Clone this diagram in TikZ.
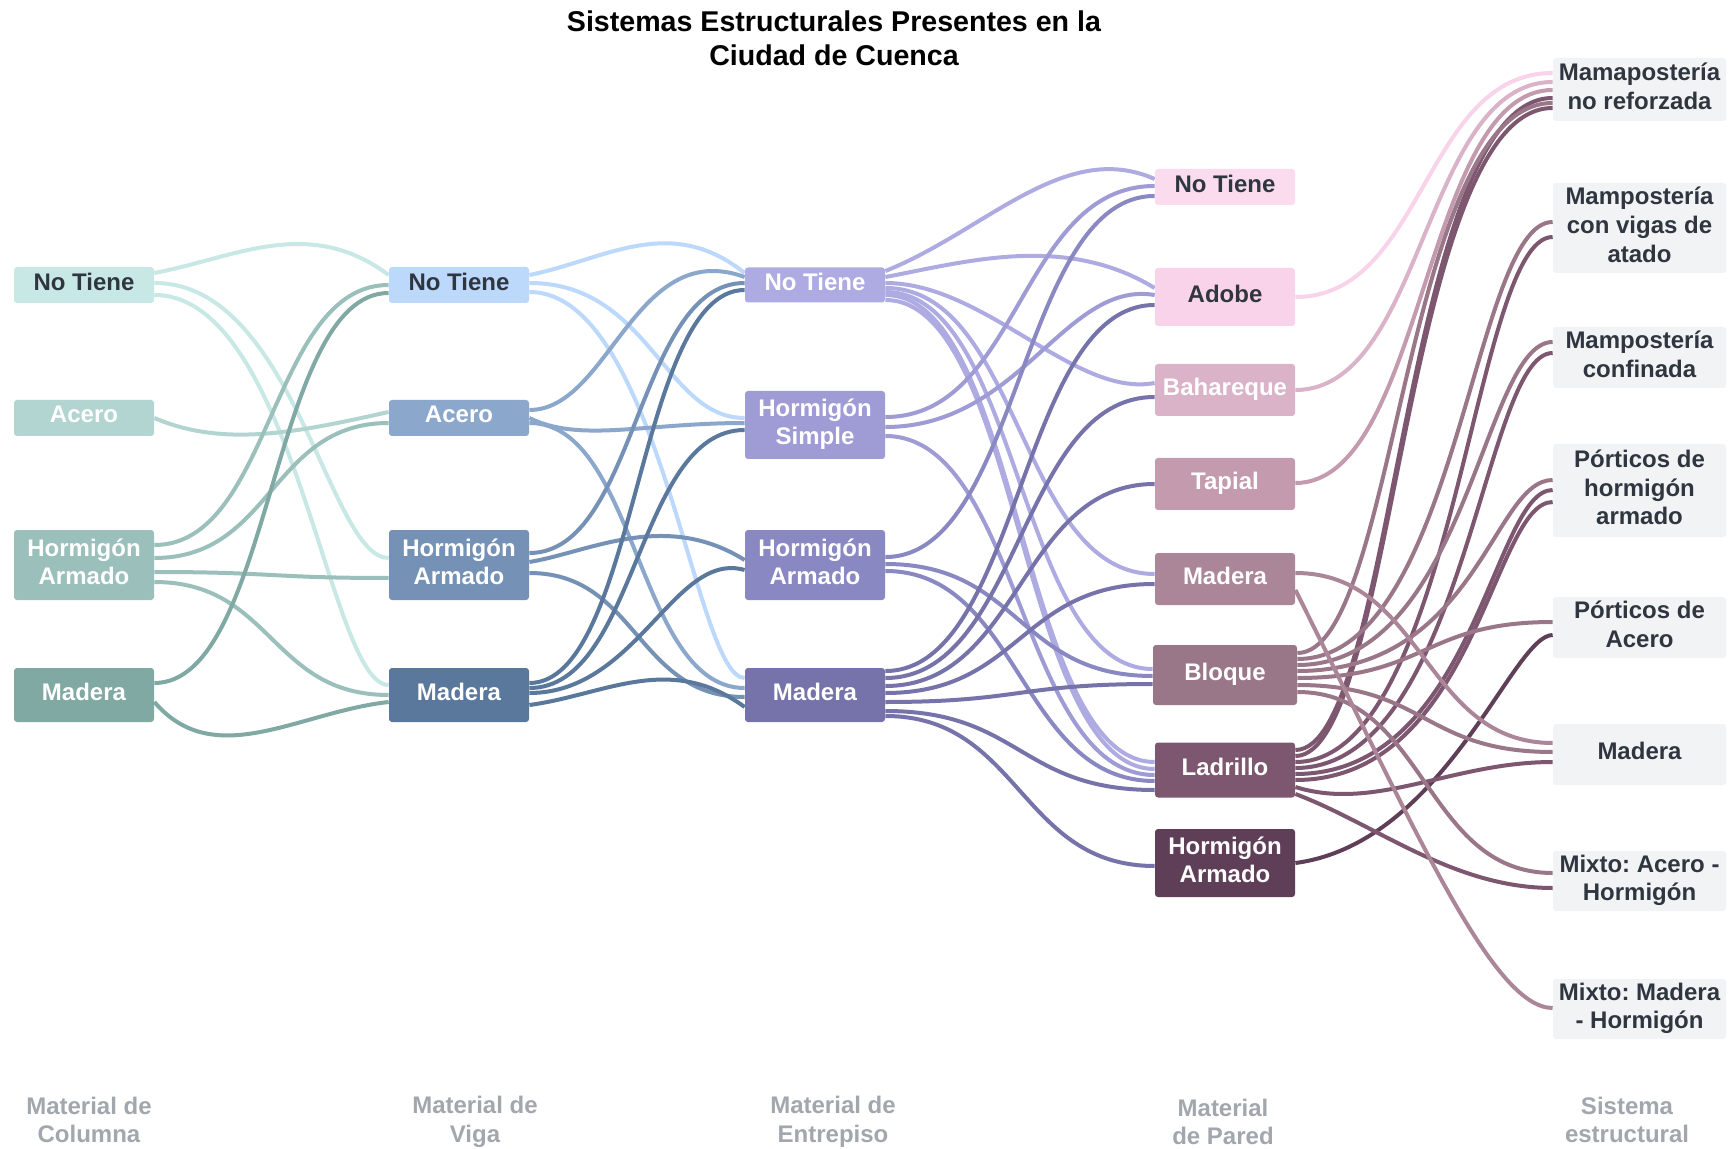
\documentclass[tikz,border=0pt]{standalone}
\usepackage{fontspec}
\setmainfont{Liberation Sans}
\usetikzlibrary{calc}
\pgfdeclarelayer{bg}
\pgfsetlayers{bg,main}
\frenchspacing
\definecolor{A1}{HTML}{C8E8E5}
\definecolor{A2}{HTML}{B3D5D2}
\definecolor{A3}{HTML}{9BC0BC}
\definecolor{A4}{HTML}{80A9A4}
\definecolor{B1}{HTML}{BCD8FB}
\definecolor{B2}{HTML}{8BA8CC}
\definecolor{B3}{HTML}{7592B6}
\definecolor{B4}{HTML}{5A779C}
\definecolor{C1}{HTML}{AEABE3}
\definecolor{C2}{HTML}{9E9BD5}
\definecolor{C3}{HTML}{8A88C2}
\definecolor{C4}{HTML}{7673AA}
\definecolor{D1}{HTML}{FADCEE}
\definecolor{D2}{HTML}{F8D3EA}
\definecolor{D3}{HTML}{DAB3C8}
\definecolor{D4}{HTML}{C49AAF}
\definecolor{D5}{HTML}{AB8698}
\definecolor{D6}{HTML}{9A7689}
\definecolor{D7}{HTML}{7D5770}
\definecolor{D8}{HTML}{5F3F58}
\definecolor{E0}{HTML}{F2F3F5}
\definecolor{TX}{HTML}{2F3640}
\definecolor{GR}{HTML}{A2A7AE}
\tikzset{
  box/.style={rectangle, rounded corners=1.5pt, inner sep=0pt, align=center,
    font=\bfseries\fontsize{12}{14.35}\selectfont, text=white, minimum width=70pt,
    text depth=3.3pt},
  sbox/.style={box, fill=E0, text=TX, minimum width=86.5pt},
  lnk/.style={line width=2pt},
  lab/.style={align=center, font=\bfseries\fontsize{12}{14.35}\selectfont, text=GR},
}
% link: colour, source, source offset, target, target offset, ctrl1, ctrl2
\newcommand\lk[7]{\draw[lnk,#1] ($(#2.east)+(0,#3)$) .. controls +(#6) and +(#7) .. ($(#4.west)+(0,#5)$);}
\begin{document}
\begin{tikzpicture}[x=0.5pt,y=-0.5pt]
\useasboundingbox (0,0) rectangle (1728,1149);
\begin{pgfonlayer}{bg}
\fill[white] (0,0) rectangle (1728,1149);
\end{pgfonlayer}

% title
\node[font=\bfseries\fontsize{14.3}{17}\selectfont, align=center] (title) at (834,38)
  {Sistemas Estructurales Presentes en la\\Ciudad de Cuenca};

% column 1
\node[box, fill=A1, text=TX, minimum height=18pt] (a1) at (84,285) {No Tiene};
\node[box, fill=A2, minimum height=18pt] (a2) at (84,418) {Acero};
\node[box, fill=A3, minimum height=35pt] (a3) at (84,565) {Hormigón\\Armado};
\node[box, fill=A4, minimum height=27pt] (a4) at (84,695) {Madera};
% column 2
\node[box, fill=B1, text=TX, minimum height=18pt] (b1) at (459,285) {No Tiene};
\node[box, fill=B2, minimum height=18pt] (b2) at (459,418) {Acero};
\node[box, fill=B3, minimum height=35pt] (b3) at (459,565) {Hormigón\\Armado};
\node[box, fill=B4, minimum height=27pt] (b4) at (459,695) {Madera};
% column 3
\node[box, fill=C1, minimum height=17.5pt] (c1) at (815,285) {No Tiene};
\node[box, fill=C2, minimum height=34pt] (c2) at (815,425) {Hormigón\\Simple};
\node[box, fill=C3, minimum height=35pt] (c3) at (815,565) {Hormigón\\Armado};
\node[box, fill=C4, minimum height=27pt] (c4) at (815,695) {Madera};
% column 4
\node[box, fill=D1, text=TX, minimum height=18pt] (d1) at (1225,187) {No Tiene};
\node[box, fill=D2, text=TX, minimum height=29pt] (d2) at (1225,297) {Adobe};
\node[box, fill=D3, minimum height=26pt] (d3) at (1225,390) {Bahareque};
\node[box, fill=D4, minimum height=26pt] (d4) at (1225,484) {Tapial};
\node[box, fill=D5, minimum height=26pt] (d5) at (1225,579) {Madera};
\node[box, fill=D6, minimum height=30pt, minimum width=72pt] (d6) at (1225,675) {Bloque};
\node[box, fill=D7, minimum height=27.5pt] (d7) at (1225,770) {Ladrillo};
\node[box, fill=D8, minimum height=34pt] (d8) at (1225,863) {Hormigón\\Armado};
% column 5
\node[sbox, minimum height=31.5pt] (e1) at (1639.5,89.5) {Mamapostería\\no reforzada};
\node[sbox, minimum height=45pt] (e2) at (1639.5,228) {Mampostería\\con vigas de\\atado};
\node[sbox, minimum height=30.5pt] (e3) at (1639.5,357.5) {Mampostería\\confinada};
\node[sbox, minimum height=46.5pt] (e4) at (1639.5,490.5) {Pórticos de\\hormigón\\armado};
\node[sbox, minimum height=30.5pt] (e5) at (1639.5,627.5) {Pórticos de\\Acero};
\node[sbox, minimum height=30.5pt] (e6) at (1639.5,754.5) {Madera};
\node[sbox, minimum height=30pt] (e7) at (1639.5,881) {Mixto: Acero -\\Hormigón};
\node[sbox, minimum height=30pt] (e8) at (1639.5,1009) {Mixto: Madera\\- Hormigón};

% bottom labels
\node[lab] (l1) at (89,1120) {Material de\\Columna};
\node[lab] (l2) at (475,1122) {Material de\\Viga};
\node[lab] (l3) at (833,1122) {Material de\\Entrepiso};
\node[lab] (l4) at (1223,1122) {Material\\de Pared};
\node[lab] (l5) at (1627,1120) {Sistema\\estructural};

\begin{pgfonlayer}{bg}
% column 1 -> 2
\lk{A1}{a1}{-12}{b1}{-10}{80,-15}{-80,-60}
\lk{A1}{a1}{-2}{b3}{-7}{140,0}{-60,0}
\lk{A1}{a1}{10}{b4}{-10}{140,0}{-60,0}
\lk{A2}{a2}{0}{b2}{-6}{70,30}{-90,20}
\lk{A3}{a3}{-20}{b1}{0}{118,0}{-118,0}
\lk{A3}{a3}{-7}{b2}{5}{118,0}{-118,0}
\lk{A3}{a3}{7}{b3}{13}{118,0}{-118,0}
\lk{A3}{a3}{17}{b4}{0}{118,0}{-118,0}
\lk{A4}{a4}{-12}{b1}{8}{118,0}{-118,0}
\lk{A4}{a4}{7}{b4}{7}{60,70}{-90,10}
% column 2 -> 3
\lk{B1}{b1}{-10}{c1}{-12}{75,-15}{-75,-60}
\lk{B1}{b1}{-2}{c2}{-7}{120,0}{-80,0}
\lk{B1}{b1}{7}{c4}{-17}{130,0}{-50,0}
\lk{B2}{b2}{-8}{c1}{-8}{80,0}{-110,-40}
\lk{B2}{b2}{0}{c2}{-2}{50,25}{-100,0}
\lk{B2}{b2}{5}{c4}{-7}{108,0}{-108,0}
\lk{B3}{b3}{-12}{c1}{-2}{108,0}{-108,0}
\lk{B3}{b3}{-3}{c3}{-5}{60,-10}{-80,-50}
\lk{B3}{b3}{8}{c4}{2}{108,0}{-108,0}
\lk{B4}{b4}{-12}{c1}{5}{108,0}{-108,0}
\lk{B4}{b4}{-7}{c2}{5}{108,0}{-108,0}
\lk{B4}{b4}{-2}{c3}{5}{108,0}{-70,-20}
\lk{B4}{b4}{10}{c4}{12}{75,-10}{-75,-55}
% column 3 -> 4
\lk{C1}{c1}{-14}{d1}{-8}{100,-40}{-90,-40}
\lk{C1}{c1}{-8}{d2}{-9}{80,-15}{-90,-55}
\lk{C1}{c1}{-2}{d3}{-7}{100,0}{-80,15}
\lk{C1}{c1}{3}{d5}{-5}{135,0}{-135,0}
\lk{C1}{c1}{7}{d6}{-6}{135,0}{-135,0}
\lk{C1}{c1}{10}{d7}{-8}{135,0}{-135,0}
\lk{C1}{c1}{15}{d7}{-1}{135,0}{-135,0}
\lk{C2}{c2}{-8}{d1}{-1}{135,0}{-135,0}
\lk{C2}{c2}{2}{d2}{-2}{135,0}{-90,-15}
\lk{C2}{c2}{11}{d7}{5}{135,0}{-135,0}
\lk{C3}{c3}{-8}{d1}{9}{135,0}{-135,0}
\lk{C3}{c3}{-1}{d6}{1}{135,0}{-135,0}
\lk{C3}{c3}{6}{d7}{11}{135,0}{-135,0}
\lk{C4}{c4}{-24}{d2}{8}{135,0}{-135,0}
\lk{C4}{c4}{-17}{d3}{7}{135,0}{-135,0}
\lk{C4}{c4}{-9}{d4}{0}{135,0}{-135,0}
\lk{C4}{c4}{-2}{d5}{5}{135,0}{-135,0}
\lk{C4}{c4}{7}{d6}{9}{135,0}{-135,0}
\lk{C4}{c4}{16}{d7}{20}{135,0}{-135,0}
\lk{C4}{c4}{21}{d8}{3}{135,0}{-135,0}
% column 4 -> 5
\lk{D2}{d2}{0}{e1}{-16.5}{129,0}{-129,0}
\lk{D3}{d3}{0}{e1}{-7.5}{129,0}{-129,0}
\lk{D4}{d4}{-1}{e1}{0.5}{129,0}{-129,0}
\lk{D7}{d7}{-20}{e1}{8.5}{100,0}{-150,0}
\lk{D6}{d6}{-22}{e1}{13.5}{100,0}{-150,0}
\lk{D7}{d7}{-14}{e1}{18.5}{100,0}{-150,0}
\lk{D6}{d6}{-16}{e2}{-6}{160,0}{-80,0}
\lk{D7}{d7}{-8}{e2}{9}{160,0}{-80,0}
\lk{D6}{d6}{-10}{e3}{-15.5}{170,0}{-70,0}
\lk{D7}{d7}{-2}{e3}{-4.5}{170,0}{-70,0}
\lk{D6}{d6}{-4}{e4}{-10.5}{180,0}{-60,0}
\lk{D7}{d7}{4}{e4}{-0.5}{180,0}{-60,0}
\lk{D7}{d7}{10}{e4}{11.5}{180,0}{-60,0}
\lk{D6}{d6}{3}{e5}{-5.5}{129,0}{-129,0}
\lk{D8}{d8}{0}{e5}{7.5}{150,-20}{-40,0}
\lk{D5}{d5}{-6}{e6}{-11.5}{129,0}{-129,0}
\lk{D6}{d6}{10}{e6}{-2.5}{129,0}{-129,0}
\lk{D7}{d7}{17}{e6}{7.5}{80,25}{-100,0}
\lk{D6}{d6}{17}{e7}{-8}{129,0}{-129,0}
\lk{D7}{d7}{24}{e7}{7}{80,30}{-100,0}
\lk{D5}{d5}{11}{e8}{-1}{120,240}{-60,0}
\end{pgfonlayer}
\end{tikzpicture}
\end{document}
